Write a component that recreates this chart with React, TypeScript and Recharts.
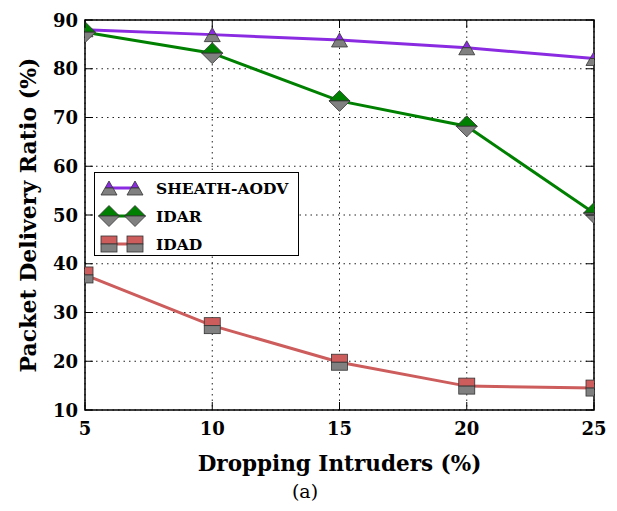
import React from 'react';
import {
  LineChart, Line, XAxis, YAxis, CartesianGrid, Legend, ReferenceArea,
} from 'recharts';

const intruders = [5, 10, 15, 20, 25];
const sheathAodv = [88, 87, 85.9, 84.3, 82.1];
const idar = [87.5, 83.2, 73.4, 68.2, 50.4];
const idad = [37.7, 27.3, 19.8, 14.9, 14.5];
const yTicks = [10, 20, 30, 40, 50, 60, 70, 80, 90];

const W = 617;
const H = 511;
const PL = 85;
const PR = 594;
const PT = 20;
const PB = 410;
const FONT = '"DejaVu Serif", serif';
const GRAY = '#808080';

const data = intruders.map((x, i) => ({
  x,
  sheath: sheathAodv[i],
  idar: idar[i],
  idad: idad[i],
}));

type Kind = 'tri' | 'dia' | 'sq';

const Marker = ({ cx, cy, color, kind }: { cx: number; cy: number; color: string; kind: Kind }) => {
  const st = { stroke: '#333', strokeWidth: 0.8 };
  if (kind === 'tri') {
    return (
      <g>
        <polygon points={`${cx},${cy - 7} ${cx + 4},${cy} ${cx - 4},${cy}`} fill={color} {...st} />
        <polygon points={`${cx - 4},${cy} ${cx + 4},${cy} ${cx + 8},${cy + 7} ${cx - 8},${cy + 7}`} fill={GRAY} {...st} />
      </g>
    );
  }
  if (kind === 'dia') {
    const r = 10.5;
    return (
      <g>
        <polygon points={`${cx},${cy - r} ${cx + r},${cy} ${cx - r},${cy}`} fill={color} {...st} />
        <polygon points={`${cx - r},${cy} ${cx + r},${cy} ${cx},${cy + r}`} fill={GRAY} {...st} />
      </g>
    );
  }
  const s = 8;
  return (
    <g>
      <rect x={cx - s} y={cy - s} width={2 * s} height={s} fill={color} {...st} />
      <rect x={cx - s} y={cy} width={2 * s} height={s} fill={GRAY} {...st} />
    </g>
  );
};

const series = [
  { key: 'sheath', name: 'SHEATH-AODV', color: '#8a2be2', kind: 'tri' as Kind },
  { key: 'idar', name: 'IDAR', color: '#008000', kind: 'dia' as Kind },
  { key: 'idad', name: 'IDAD', color: '#cd5c5c', kind: 'sq' as Kind },
];

const YTick = ({ y, payload }: any) => (
  <g>
    <line x1={PL} x2={PL + 8} y1={y} y2={y} stroke="#000" strokeWidth={1} />
    <line x1={PR - 8} x2={PR} y1={y} y2={y} stroke="#000" strokeWidth={1} />
    <text x={PL - 7} y={y} textAnchor="end" dominantBaseline="central"
      fontFamily={FONT} fontWeight="bold" fontSize={18} fill="#000">
      {payload.value}
    </text>
  </g>
);

const XTick = ({ x, payload }: any) => (
  <g>
    <line x1={x} x2={x} y1={PB - 8} y2={PB} stroke="#000" strokeWidth={1} />
    <line x1={x} x2={x} y1={PT} y2={PT + 8} stroke="#000" strokeWidth={1} />
    <text x={x} y={428} textAnchor="middle" dominantBaseline="central"
      fontFamily={FONT} fontWeight="bold" fontSize={18} fill="#000">
      {payload.value}
    </text>
  </g>
);

const LegendBox = () => (
  <div style={{
    width: 205, height: 84, border: '1.5px solid #000', background: '#fff',
    boxSizing: 'border-box', position: 'relative',
  }}>
    {series.map((s, i) => (
      <div key={s.key} style={{ position: 'absolute', left: 0, top: 1 + i * 28, height: 28, display: 'flex', alignItems: 'center' }}>
        <svg width={58} height={28}>
          <line x1={14} x2={40} y1={14} y2={14} stroke={s.color} strokeWidth={3} />
          <Marker cx={14} cy={14} color={s.color} kind={s.kind} />
          <Marker cx={40} cy={14} color={s.color} kind={s.kind} />
        </svg>
        <span style={{ fontFamily: FONT, fontWeight: 'bold', fontSize: 15.5, marginLeft: 3, color: '#000' }}>
          {s.name}
        </span>
      </div>
    ))}
  </div>
);

export default function App() {
  return (
    <div style={{ position: 'absolute', left: 0, top: 0, width: W, height: H, background: '#fff' }}>
      <LineChart width={W} height={H} data={data} margin={{ top: PT, right: W - PR, left: 0, bottom: 0 }}>
        <CartesianGrid stroke="#222" strokeDasharray="1.5 4" strokeWidth={1} />
        <XAxis
          dataKey="x"
          type="number"
          domain={[5, 25]}
          ticks={intruders}
          allowDataOverflow
          axisLine={false}
          tickLine={false}
          tick={<XTick />}
          height={H - PB}
          label={{
            value: 'Dropping Intruders (%)', position: 'insideBottom', offset: 40,
            style: { fontFamily: FONT, fontWeight: 'bold', fontSize: 21.5, fill: '#000' },
          }}
        />
        <YAxis
          type="number"
          domain={[10, 90]}
          ticks={yTicks}
          axisLine={false}
          tickLine={false}
          tick={<YTick />}
          width={PL}
          label={{
            value: 'Packet Delivery Ratio (%)', angle: -90, position: 'insideLeft', offset: 28,
            style: { fontFamily: FONT, fontWeight: 'bold', fontSize: 22, fill: '#000', textAnchor: 'middle' },
          }}
        />
        {series.map((s) => (
          <Line
            key={s.key}
            dataKey={s.key}
            name={s.name}
            stroke={s.color}
            strokeWidth={3}
            isAnimationActive={false}
            dot={(p: any) => <Marker key={`${s.key}-${p.index}`} cx={p.cx} cy={p.cy} color={s.color} kind={s.kind} />}
            activeDot={false}
          />
        ))}
        <ReferenceArea x1={5} x2={25} y1={10} y2={90} fill="none" stroke="#000" strokeWidth={1.5} fillOpacity={0} />
        <Legend
          layout="vertical"
          align="center"
          verticalAlign="middle"
          content={<LegendBox />}
          wrapperStyle={{ position: 'absolute', left: 94, top: 172, width: 205, height: 84 }}
        />
      </LineChart>
      <div style={{
        position: 'absolute', left: 0, width: 610, top: 480, textAlign: 'center',
        fontFamily: FONT, fontSize: 19, color: '#000',
      }}>
        (a)
      </div>
    </div>
  );
}
